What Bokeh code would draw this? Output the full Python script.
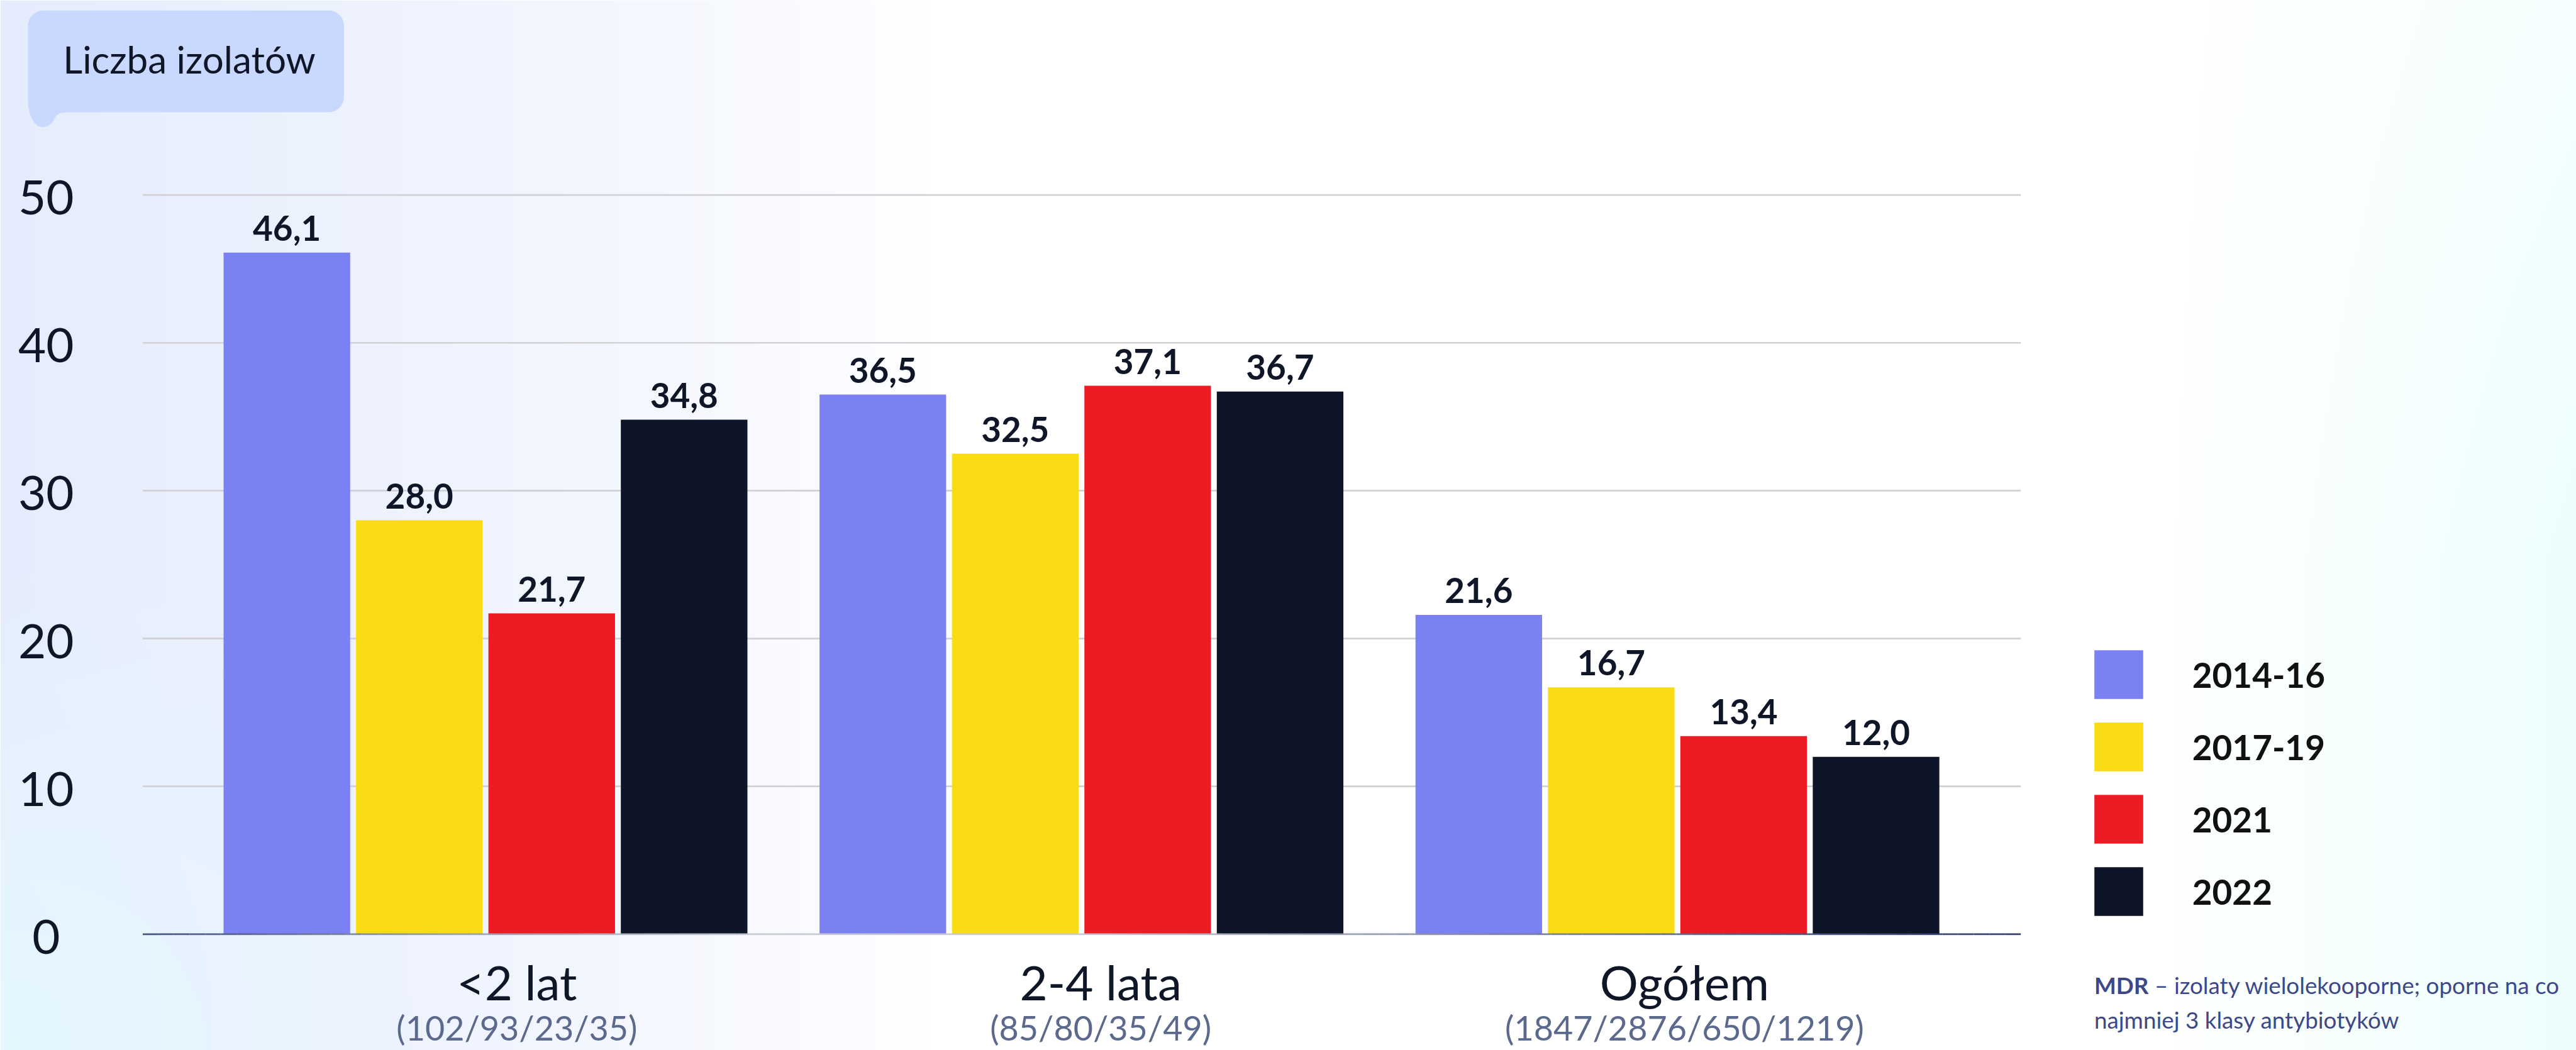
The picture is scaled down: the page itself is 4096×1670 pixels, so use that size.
import numpy as np
from bokeh.plotting import figure
from bokeh.models import ColumnDataSource, Range1d, Legend, LegendItem
from bokeh.core.properties import value
from bokeh.embed import file_html
from bokeh.resources import INLINE

# ---------------- data ----------------
categories = ["<2 lat", "2-4 lata", "Ogółem"]
isolate_counts = ["(102/93/23/35)", "(85/80/35/49)", "(1847/2876/650/1219)"]
series = ["2014-16", "2017-19", "2021", "2022"]
v_2014_16 = [46.1, 36.5, 21.6]
v_2017_19 = [28.0, 32.5, 16.7]
v_2021 = [21.7, 37.1, 13.4]
v_2022 = [34.8, 36.7, 12.0]
y_ticks = [0, 10, 20, 30, 40, 50]
series_values = [v_2014_16, v_2017_19, v_2021, v_2022]
series_colors = ["#7b80f3", "#f9dc14", "#ed1c24", "#0f1528"]

title_text = "Liczba izolatów"
note_bold = "MDR"
note_line1 = "– izolaty wielolekooporne; oporne na co"
note_line2 = "najmniej 3 klasy antybiotyków"

# ---------------- layout ----------------
W, H = 4096, 1670
BASE_W, BASE_H = 4558, 1858          # design grid in which the layout is laid out
S = W / BASE_W
FONT = value("Lato")
INK = "#0f1628"

GROUP_PX = 1054.5                     # design px per category
UNIT_PX = 26.16                       # design px per 1 unit on the value axis
X0_PX = 858.5 - 0.5 * GROUP_PX        # design px where x = 0
Y0_PX = 1652.5                        # design px where y = 0


def xd(px):
    return (px - X0_PX) / GROUP_PX


def yd(py):
    return (Y0_PX - py) / UNIT_PX


def hd(px):
    return px / UNIT_PX


def fs(px):
    return f"{px * S:.1f}px"


BAR_W = 224 / GROUP_PX
BAR_STEP = 234.3 / GROUP_PX
GRID_X0, GRID_X1 = xd(252), xd(3575)

p = figure(width=W, height=H,
           x_range=Range1d(xd(0), xd(BASE_W)), y_range=Range1d(yd(BASE_H), yd(0)),
           output_backend="svg", toolbar_location=None, tools="",
           x_axis_type=None, y_axis_type=None, min_border=0,
           outline_line_color=None, background_fill_color="white",
           border_fill_color="white")

# ---------------- soft background wash ----------------
nx, ny = 512, 209
gx = (np.arange(nx) + 0.5) * BASE_W / nx
gy = (np.arange(ny) + 0.5) * BASE_H / ny
X, Y = np.meshgrid(gx, gy)
col = np.ones((ny, nx, 3)) * 255.0
lav = np.array([229, 236, 253.0])
cya = np.array([228, 247, 255.0])
rcy = np.array([236, 253, 253.0])
wl = np.clip(1 - X / 1650, 0, 1) ** 0.75
wc = np.clip(1 - np.hypot(X / 750, (BASE_H - Y) / 850), 0, 1) ** 0.9
wr = np.clip((X - 3750) / 808, 0, 1) ** 1.2 * (0.55 + 0.45 * np.clip(Y / 1000, 0, 1))
for w, c in ((wl, lav), (wc, cya), (wr, rcy)):
    col = col * (1 - w[..., None]) + c * w[..., None]
rgba = np.empty((ny, nx, 4), dtype=np.uint8)
rgba[..., :3] = np.round(col).astype(np.uint8)
rgba[..., 3] = 255
img = np.flipud(rgba).copy().view(dtype=np.uint32).reshape((ny, nx))
p.image_rgba(image=[img], x=xd(0), y=yd(BASE_H), dw=xd(BASE_W) - xd(0), dh=yd(0) - yd(BASE_H))

# ---------------- grid lines ----------------
grid_vals = [t for t in y_ticks if t > 0]
p.segment(x0=[GRID_X0] * len(grid_vals), x1=[GRID_X1] * len(grid_vals),
          y0=grid_vals, y1=grid_vals, line_color="#d1d1d6", line_width=2.7)

# ---------------- bars + value labels ----------------
centers = np.arange(len(categories)) + 0.5
bar_renderers = []
for k, (name, vals, color) in enumerate(zip(series, series_values, series_colors)):
    src = ColumnDataSource(dict(
        x=centers + (k - 1.5) * BAR_STEP,
        top=vals,
        label=[f"{v:.1f}".replace(".", ",") for v in vals],
        label_y=[v + hd(43) for v in vals],
    ))
    r = p.vbar(x="x", top="top", bottom=0, width=BAR_W, source=src,
               fill_color=color, line_color=None)
    bar_renderers.append(r)
    p.text(x="x", y="label_y", text="label", source=src, text_font=FONT,
           text_font_style="bold", text_font_size=fs(61), text_color=INK,
           text_align="center", text_baseline="middle")

# ---------------- zero line with a soft colour fade ----------------
stops_px = [252, 740, 1300, 1900, 2450, 3100, 3575]
stops_rgb = [(52, 68, 112), (138, 147, 168), (196, 199, 210), (196, 199, 210),
             (142, 148, 170), (74, 90, 128), (32, 48, 92)]
edges = np.linspace(252, 3575, 121)
mids = 0.5 * (edges[:-1] + edges[1:])
seg_cols = []
for m in mids:
    rgb = [np.interp(m, stops_px, [c[i] for c in stops_rgb]) for i in range(3)]
    seg_cols.append("#%02x%02x%02x" % tuple(int(round(v)) for v in rgb))
p.segment(x0=[xd(e) for e in edges[:-1]], x1=[xd(e) for e in edges[1:]],
          y0=[0] * len(mids), y1=[0] * len(mids), line_color=seg_cols,
          line_width=2.8, line_alpha=0.9, line_cap="butt")

# ---------------- value-axis tick labels ----------------
p.text(x=[xd(81)] * len(y_ticks), y=[t - hd(4.5) for t in y_ticks],
       text=[str(t) for t in y_ticks], text_font=FONT, text_font_size=fs(85),
       text_color=INK, text_align="center", text_baseline="middle")

# ---------------- category labels ----------------
LABEL_X0 = xd(914)
LABEL_STEP = 1033 / GROUP_PX
label_x = [LABEL_X0 + i * LABEL_STEP for i in range(len(categories))]
p.text(x=label_x, y=[yd(1737)] * len(categories), text=categories,
       text_font=FONT, text_font_size=fs(85), text_color=INK,
       text_align="center", text_baseline="middle")
p.text(x=label_x, y=[yd(1817)] * len(categories), text=isolate_counts,
       text_font=FONT, text_font_size=fs(60), text_color="#5b6a8c",
       text_align="center", text_baseline="middle")

# ---------------- speech-bubble title ----------------
def arc(cx, cy, r, a0, a1, n=14):
    a = np.radians(np.linspace(a0, a1, n))
    return list(cx + r * np.cos(a)), list(cy + r * np.sin(a))


bl, bt, br, bb, rad = 49, 18, 608, 198, 27
bx, by = [], []
for (cx, cy, a0, a1) in ((bl + rad, bt + rad, 180, 270), (br - rad, bt + rad, 270, 360),
                         (br - rad, bb - rad, 0, 90)):
    ax_, ay_ = arc(cx, cy, rad, a0, a1)
    bx += ax_
    by += ay_
tail = [(118, 198), (106, 199.5), (99, 204), (95, 211), (90, 218), (83, 223),
        (75, 224.5), (67, 222.5), (60, 217), (55, 208), (51, 196), (49, 184)]
bx += [t[0] for t in tail]
by += [t[1] for t in tail]
p.patch(x=[xd(v) for v in bx], y=[yd(v) for v in by], fill_color="#c8d8fe", line_color=None)
p.text(x=[xd(111)], y=[yd(104)], text=[title_text], text_font=FONT,
       text_font_size=fs(67), text_color=INK, text_align="left", text_baseline="middle")

# ---------------- footnote ----------------
NOTE_COLOR = "#3d4888"
p.text(x=[xd(3705)], y=[yd(1742.5)], text=[note_bold], text_font=FONT, text_font_style="bold",
       text_font_size=fs(41), text_color=NOTE_COLOR, text_align="left", text_baseline="middle")
p.text(x=[xd(3812)], y=[yd(1742.5)], text=[note_line1], text_font=FONT,
       text_font_size=fs(41), text_color=NOTE_COLOR, text_align="left", text_baseline="middle")
p.text(x=[xd(3705)], y=[yd(1803.5)], text=[note_line2], text_font=FONT,
       text_font_size=fs(41), text_color=NOTE_COLOR, text_align="left", text_baseline="middle")

# ---------------- legend ----------------
SW = 86 * S                 # visible swatch size
GLYPH = SW / 0.8            # legend draws area glyphs inset by 10% per side
inset = 0.1 * GLYPH
legend = Legend(
    items=[LegendItem(label=s, renderers=[r]) for s, r in zip(series, bar_renderers)],
    location=(3705 * S - inset, H - (1621 * S + inset)),
    orientation="vertical",
    glyph_width=int(round(GLYPH)), glyph_height=int(round(GLYPH)),
    spacing=int(round(128 * S - GLYPH)),
    label_standoff=int(round(3878 * S - (3791 * S + inset))),
    padding=0, margin=0, border_line_color=None, background_fill_alpha=0,
    label_text_font="Lato", label_text_font_style="bold",
    label_text_font_size=fs(61), label_text_color="#111111",
)
p.add_layout(legend)

open("out.html", "w").write(file_html(p, INLINE))
